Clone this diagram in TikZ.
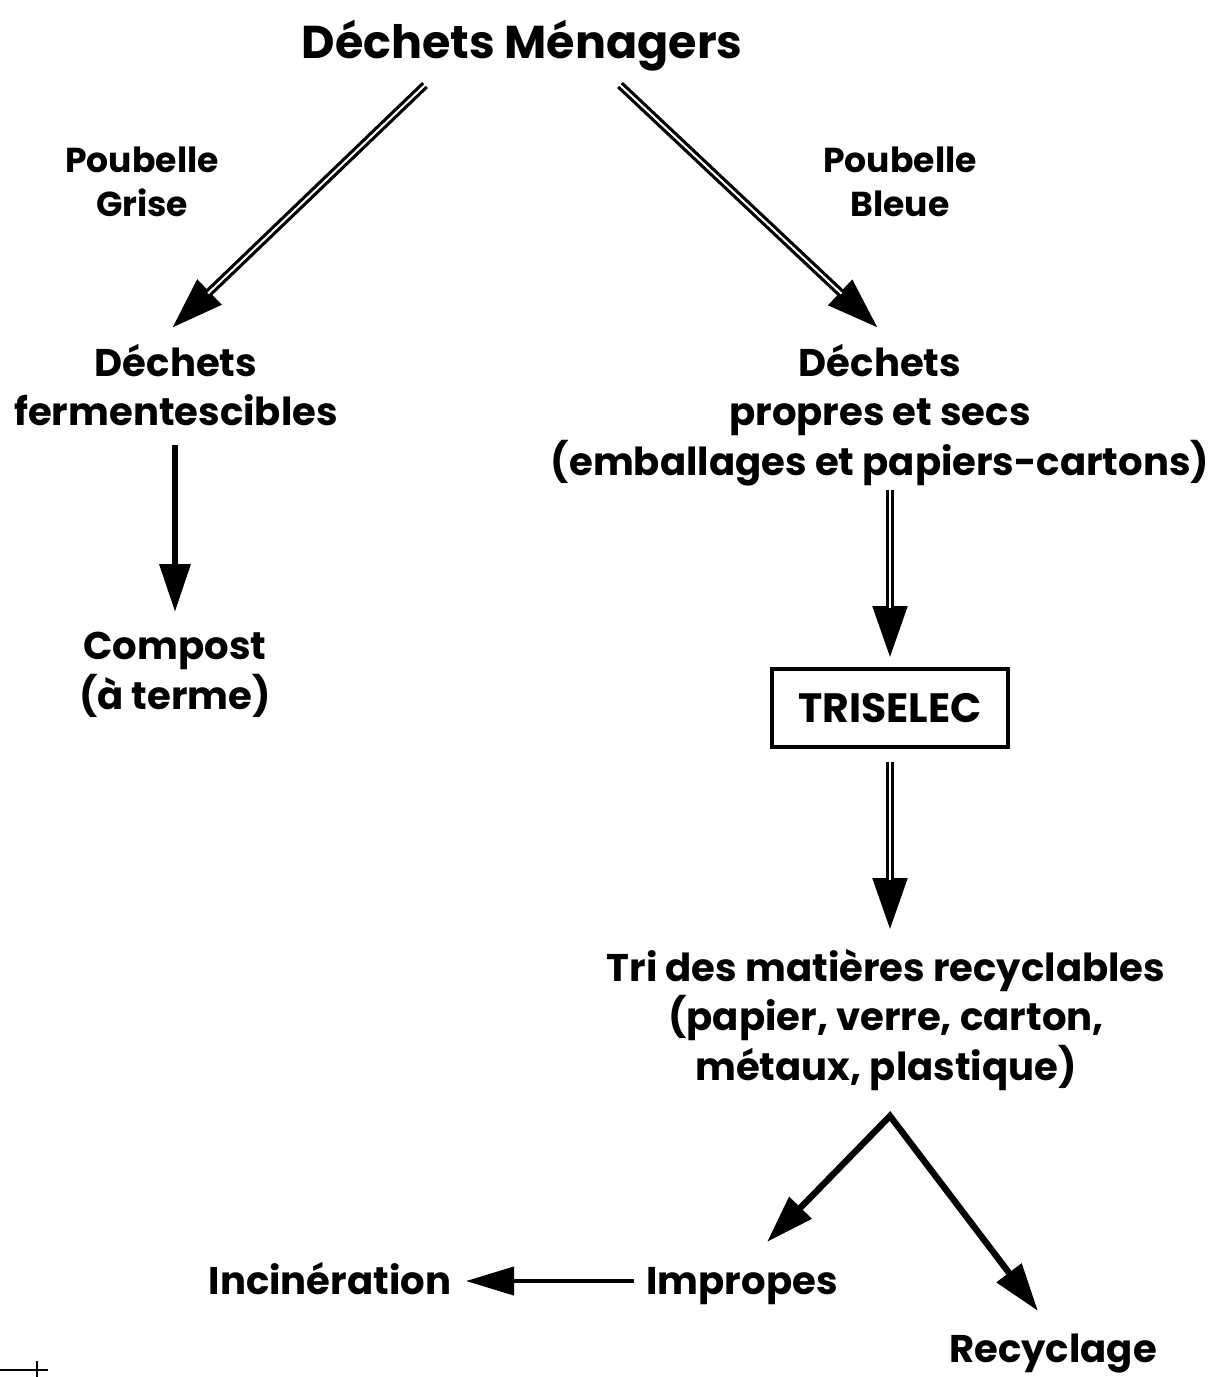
\documentclass[tikz,border=0pt]{standalone}
\usepackage{fontspec}
\setmainfont{Poppins}
\usetikzlibrary{arrows.meta}
\begin{document}
\begin{tikzpicture}[x={(0.5pt,0)},y={(0,-0.5pt)},
  lbl/.style={font=\bfseries\fontsize{19.3pt}{24.8pt}\selectfont, align=center, inner sep=0pt},
  small/.style={font=\bfseries\fontsize{17.3pt}{22pt}\selectfont, align=center, inner sep=0pt},
  dblarrow/.style={line width=4.2pt, -{Triangle[length=26pt,width=16.5pt]}},
  dblinner/.style={white, line width=1pt, shorten >=25pt, shorten <=-1pt},
  thinarrow/.style={line width=2pt, -{Triangle[length=24pt,width=14pt]}}]
\useasboundingbox (0,0) rectangle (1216,1377);
% texts
\node[font=\bfseries\fontsize{23pt}{27pt}\selectfont, inner sep=0pt, anchor=base] (men) at (522,58) {Déchets Ménagers};
\node[small] (grise) at (142,182) {Poubelle\\Grise};
\node[small] (bleue) at (900,182) {Poubelle\\Bleue};
\node[lbl] (ferm) at (176,385) {Déchets\\fermentescibles};
\node[lbl] (propres) at (880,415) {Déchets\\propres et secs\\(emballages et papiers-cartons)};
\node[lbl] (compost) at (175,675) {Compost\\(à terme)};
\node[draw, line width=2pt, minimum width=118pt, minimum height=39pt, inner sep=0pt,
      font=\bfseries\fontsize{20.5pt}{24pt}\selectfont] (tris) at (890,708) {TRISELEC};
\node[lbl] (tri) at (886,1020) {Tri des matières recyclables\\(papier, verre, carton,\\métaux, plastique)};
\node[lbl, anchor=base] (imp) at (742,1294) {Impropes};
\node[lbl, anchor=base] (inc) at (330,1294) {Incinération};
\node[lbl, anchor=base] (rec) at (1053,1362) {Recyclage};
% arrow end points
\coordinate (a1s) at (425,85);  \coordinate (a1e) at (172,328);
\coordinate (a2s) at (620,85);  \coordinate (a2e) at (878,328);
\coordinate (a3s) at (175,445); \coordinate (a3e) at (175,612);
\coordinate (a4s) at (890,490); \coordinate (a4e) at (890,658);
\coordinate (a5s) at (890,762); \coordinate (a5e) at (890,930);
\coordinate (apex) at (890,1116);
\coordinate (a6e) at (767,1242); \coordinate (a7e) at (1038,1311);
\coordinate (a8s) at (634,1281); \coordinate (a8e) at (466,1281);
% double arrows
\foreach \s/\e in {a1s/a1e,a2s/a2e,a4s/a4e,a5s/a5e}{
  \draw[dblarrow] (\s) -- (\e);
  \draw[dblinner] (\s) -- (\e);
}
% single arrows
\draw[line width=3.2pt, -{Triangle[length=24pt,width=15pt]}] (a3s) -- (a3e);
\draw[line width=3.2pt, {Triangle[length=24pt,width=15pt]}-{Triangle[length=24pt,width=15pt]}] (a6e) -- (apex) -- (a7e);
\draw[thinarrow] (a8s) -- (a8e);
% registration mark
\draw[line width=1pt] (0,1370) -- (48,1370) (37,1361) -- (37,1377);
\end{tikzpicture}
\end{document}
